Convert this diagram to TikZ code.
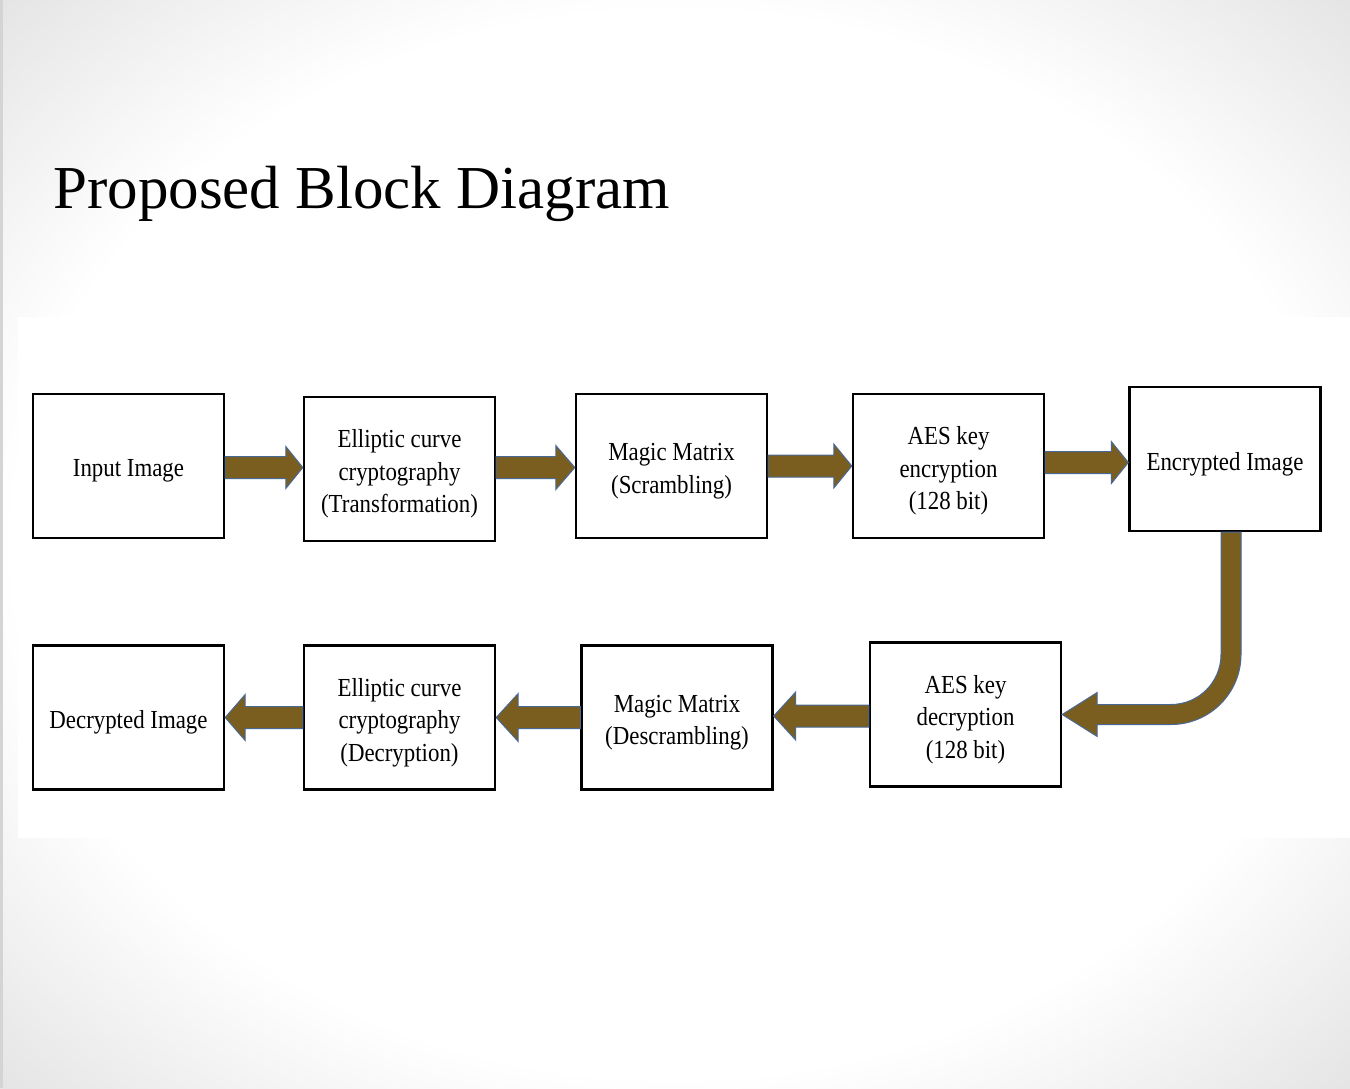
\documentclass[tikz,border=0pt]{standalone}
\usepackage{fontspec}
\setmainfont{Liberation Serif}
\newfontfamily\boxfont{Liberation Serif}[FakeStretch=0.88]
\usetikzlibrary{calc}
\definecolor{arrowfill}{RGB}{122,94,32}
\definecolor{arrowedge}{RGB}{72,104,150}
\pgfdeclareradialshading{vign}{\pgfpoint{0bp}{0bp}}{color(0bp)=(white); color(24.5bp)=(white); color(36bp)=(black!11); color(50bp)=(black!11)}
\tikzset{
  blockbox/.style={draw, line width=1.2pt, fill=white, minimum width=95.5pt,
    minimum height=72pt, inner sep=0pt},
  boxtext/.style={align=center, inner sep=0pt,
    font=\boxfont\fontsize{13pt}{16.25pt}\selectfont},
  fatarrow/.style={fill=arrowfill, draw=arrowedge, line width=0.5pt, line join=miter}
}
% block: name, position, text
\newcommand\blk[3]{%
  \node[blockbox] (#1) at (#2) {};
  \node[boxtext] (#1-t) at ([yshift=-2.5pt]#1.center) {#3};}
% #1 from, #2 to, #3 shaft half height, #4 head half height, #5 head length
\newcommand\fatright[5]{%
  \filldraw[fatarrow] let \p1=(#1.east), \p2=(#2.west), \p3=($(#1.east)!0.5!(#2.west)$) in
  (\x1,{\y3+#3}) -- ({\x2-#5},{\y3+#3}) -- ({\x2-#5},{\y3+#4}) -- (\x2,\y3)
  -- ({\x2-#5},{\y3-#4}) -- ({\x2-#5},{\y3-#3}) -- (\x1,{\y3-#3}) -- cycle;}
\newcommand\fatleft[5]{%
  \filldraw[fatarrow] let \p1=(#1.west), \p2=(#2.east), \p3=($(#1.west)!0.5!(#2.east)$) in
  (\x1,{\y3+#3}) -- ({\x2+#5},{\y3+#3}) -- ({\x2+#5},{\y3+#4}) -- (\x2,\y3)
  -- ({\x2+#5},{\y3-#4}) -- ({\x2+#5},{\y3-#3}) -- (\x1,{\y3-#3}) -- cycle;}
\begin{document}
\begin{tikzpicture}[x=0.5pt,y=0.5pt]
\useasboundingbox (0,0) rectangle (1350,-1088);
\shade[shading=vign] (0,0) rectangle (1350,-1088);
\fill[black!17] (0,0) rectangle (3,-1088);
\fill[white] (18,-317) rectangle (1350,-838);

\node[anchor=base west, inner sep=0pt, font=\fontsize{30.5pt}{36pt}\selectfont] (title) at (53,-208) {Proposed Block Diagram};

\blk{in}{128.5,-466}{Input Image}
\blk{ecc}{399.5,-469}{Elliptic curve\\cryptography\\(Transformation)}
\blk{mm}{671.5,-466}{Magic Matrix\\(Scrambling)}
\blk{aes}{948.5,-466}{AES key\\encryption\\(128 bit)}
\blk{enc}{1225,-459}{Encrypted Image}
\blk{dec}{128.5,-717.5}{Decrypted Image}
\blk{eccd}{399.5,-717.5}{Elliptic curve\\cryptography\\(Decryption)}
\blk{mmd}{677,-717.5}{Magic Matrix\\(Descrambling)}
\blk{aesd}{965.5,-714.5}{AES key\\decryption\\(128 bit)}

\fatright{in}{ecc}{5.5pt}{10.5pt}{8.5pt}
\fatright{ecc}{mm}{5.5pt}{11pt}{9.5pt}
\fatright{mm}{aes}{5.5pt}{11pt}{9pt}
\fatright{aes}{enc}{5.5pt}{10.5pt}{8.5pt}

\fatleft{aesd}{mmd}{5.5pt}{12pt}{11pt}
\fatleft{mmd}{eccd}{5.5pt}{12pt}{11pt}
\fatleft{eccd}{dec}{5.5pt}{11.5pt}{10pt}

\filldraw[fatarrow] let \p1=([xshift=3pt]enc.south), \p2=(aesd.east) in
  ({\x1+5pt},\y1) -- ({\x1+5pt},{\y2+30pt}) arc[start angle=0, end angle=-90, radius=35pt]
  -- ({\x2+17.5pt},{\y2-5pt}) -- ({\x2+17.5pt},{\y2-11pt}) -- (\x2,\y2)
  -- ({\x2+17.5pt},{\y2+11pt}) -- ({\x2+17.5pt},{\y2+5pt}) -- ({\x1-30pt},{\y2+5pt})
  arc[start angle=-90, end angle=0, radius=25pt] -- ({\x1-5pt},\y1) -- cycle;
\end{tikzpicture}
\end{document}
